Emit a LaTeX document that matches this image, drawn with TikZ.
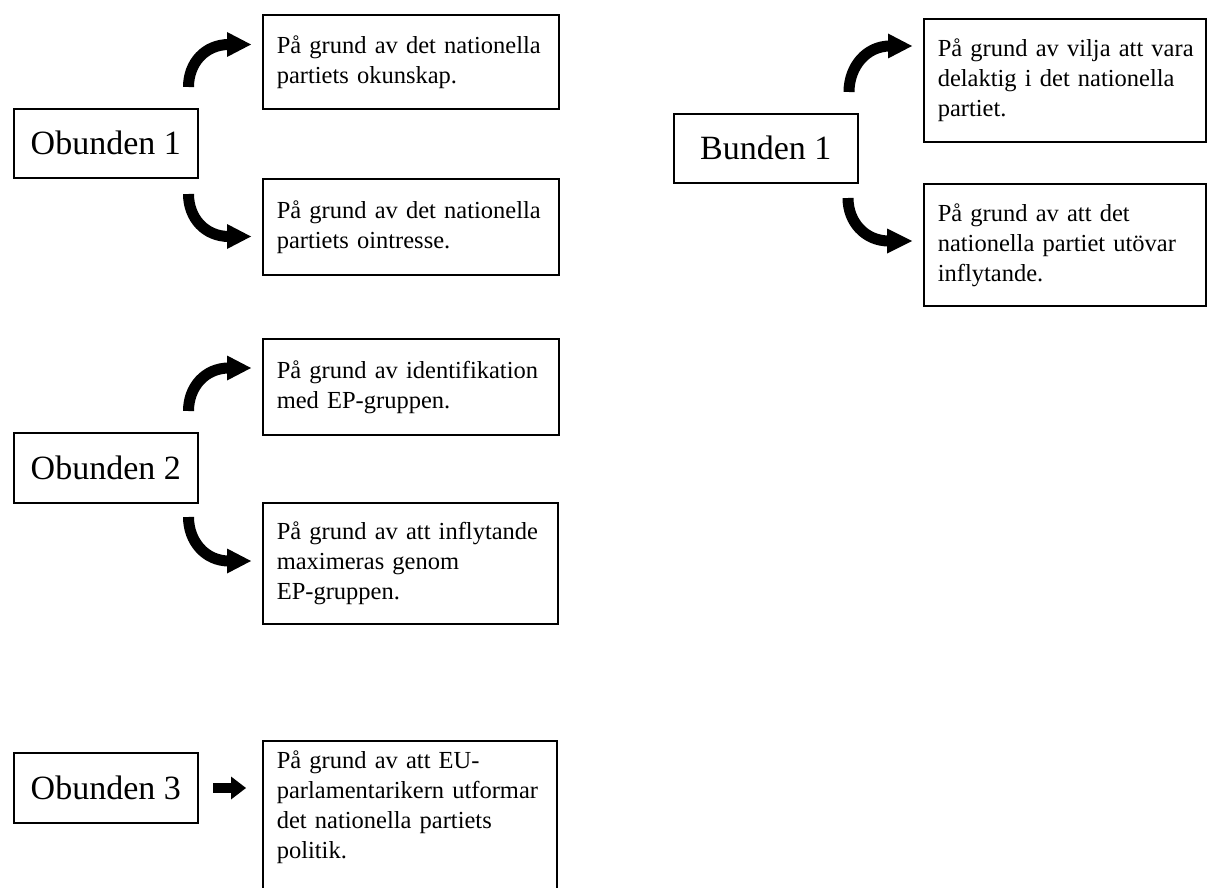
\documentclass[tikz,border=0pt]{standalone}
\usepackage{fontspec}
\setmainfont{Liberation Serif}
\begin{document}
\begin{tikzpicture}[x=1pt,y=-1pt,
  keybox/.style={draw, line width=1.6pt, inner xsep=14pt, inner ysep=0pt, align=left,
    font=\fontsize{34}{40}\selectfont, anchor=north west, minimum width=184pt},
  tbox/.style={draw, line width=1.6pt, inner xsep=14pt, inner ysep=0pt, align=left,
    font=\fontsize{24.5}{30}\selectfont, anchor=north west},
  shaft/.style={line width=11pt, line cap=butt},
  headfill/.style={fill=black}
]
\useasboundingbox (0,0) rectangle (1208,888);
\fill[white] (0,0) rectangle (1208,888);
\clip (0,0) rectangle (1208,888);

% key boxes
\node[keybox, minimum height=69pt] (o1) at (13,108) {Obunden 1};
\node[keybox, minimum height=70pt] (o2) at (13,432) {Obunden 2};
\node[keybox, minimum height=70pt] (o3) at (13,752) {Obunden 3};
\node[keybox, minimum height=69pt] (b1) at (673,113) {Bunden 1};

% text boxes
\node[tbox, text width=268pt, minimum height=94pt] (t1a) at (262,14)
  {\mbox{På grund av det nationella}\\\mbox{partiets okunskap.}};
\node[tbox, text width=268pt, minimum height=96pt] (t1b) at (262,178)
  {\mbox{På grund av det nationella}\\\mbox{partiets ointresse.}};
\node[tbox, text width=268pt, minimum height=96pt] (t2a) at (262,338)
  {\mbox{På grund av identifikation}\\\mbox{med EP-gruppen.}};
\node[tbox, text width=267pt, minimum height=121pt] (t2b) at (262,502)
  {\mbox{På grund av att inflytande}\\\mbox{maximeras genom}\\\mbox{EP-gruppen.}};
\node[tbox, text width=266pt, minimum height=158pt] (t3) at (262,740)
  {\mbox{På grund av att EU-}\\\mbox{parlamentarikern utformar}\\\mbox{det nationella partiets}\\\mbox{politik.}\\\mbox{}};
\node[tbox, text width=254pt, minimum height=123pt] (r1a) at (923,18)
  {\mbox{På grund av vilja att vara}\\\mbox{delaktig i det nationella}\\\mbox{partiet.}};
\node[tbox, text width=254pt, minimum height=122pt] (r1b) at (923,183)
  {\mbox{På grund av att det}\\\mbox{nationella partiet utövar}\\\mbox{inflytande.}};

% arrow coordinates (left column)
\coordinate (o1us) at (188.5,87);  \coordinate (o1ub) at (227,44.5); \coordinate (o1ut) at (251,44.5);
\coordinate (o1ds) at (188.5,194); \coordinate (o1db) at (227,236.5); \coordinate (o1dt) at (251,236.5);
\coordinate (o2us) at (188.5,411); \coordinate (o2ub) at (227,368); \coordinate (o2ut) at (251,368);
\coordinate (o2ds) at (188.5,517); \coordinate (o2db) at (227,561); \coordinate (o2dt) at (251,561);
% right column
\coordinate (b1us) at (849,92);  \coordinate (b1ub) at (888,46);  \coordinate (b1ut) at (912,46);
\coordinate (b1ds) at (848,198); \coordinate (b1db) at (887,241); \coordinate (b1dt) at (912,241);
% straight arrow
\coordinate (o3s) at (213,788); \coordinate (o3b) at (231,788); \coordinate (o3t) at (246,788);

% curved shafts
\draw[shaft] (o1us) .. controls (188.5,63) and (205,44.5) .. ([xshift=2pt]o1ub);
\draw[shaft] (o1ds) .. controls (188.5,218) and (205,236.5) .. ([xshift=2pt]o1db);
\draw[shaft] (o2us) .. controls (188.5,387) and (205,368) .. ([xshift=2pt]o2ub);
\draw[shaft] (o2ds) .. controls (188.5,541) and (205,561) .. ([xshift=2pt]o2db);
\draw[shaft] (b1us) .. controls (849,67) and (866,46) .. ([xshift=2pt]b1ub);
\draw[shaft] (b1ds) .. controls (848,222) and (865,241) .. ([xshift=2pt]b1db);
\draw[line width=10pt] (o3s) -- ([xshift=1pt]o3b);

% heads
\fill[headfill] ([yshift=12.5pt]o1ub) -- (o1ut) -- ([yshift=-12.5pt]o1ub) -- cycle;
\fill[headfill] ([yshift=12.5pt]o1db) -- (o1dt) -- ([yshift=-12.5pt]o1db) -- cycle;
\fill[headfill] ([yshift=12.5pt]o2ub) -- (o2ut) -- ([yshift=-12.5pt]o2ub) -- cycle;
\fill[headfill] ([yshift=12.5pt]o2db) -- (o2dt) -- ([yshift=-12.5pt]o2db) -- cycle;
\fill[headfill] ([yshift=12.5pt]b1ub) -- (b1ut) -- ([yshift=-12.5pt]b1ub) -- cycle;
\fill[headfill] ([yshift=12.5pt]b1db) -- (b1dt) -- ([yshift=-12.5pt]b1db) -- cycle;
\fill[headfill] ([yshift=11.5pt]o3b) -- (o3t) -- ([yshift=-11.5pt]o3b) -- cycle;
\end{tikzpicture}
\end{document}
